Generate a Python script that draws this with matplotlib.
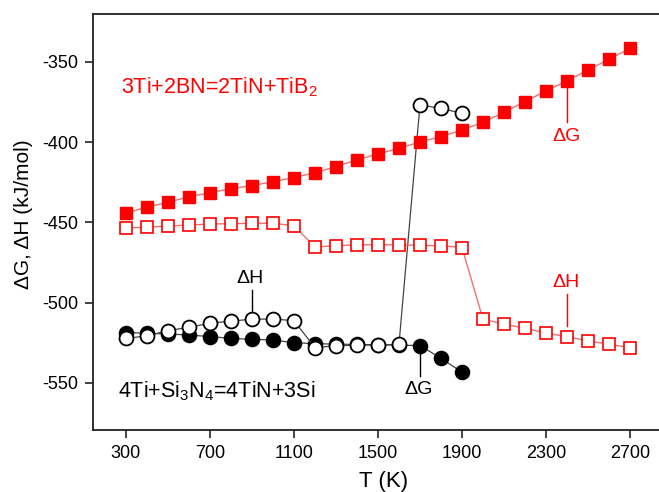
import matplotlib
matplotlib.use("Agg")
import matplotlib.pyplot as plt

plt.rcParams['font.family'] = ['Liberation Sans', 'DejaVu Sans']
plt.rcParams['mathtext.fontset'] = 'custom'
plt.rcParams['mathtext.rm'] = 'Liberation Sans'
plt.rcParams['mathtext.it'] = 'Liberation Sans:italic'
plt.rcParams['axes.unicode_minus'] = False

# --- data ---
T_bn = list(range(300, 2800, 100))
dG_bn = [-444.0, -440.5, -437.4, -434.0, -431.4, -429.0, -427.0, -424.6, -422.0,
         -419.0, -415.2, -411.0, -407.3, -403.8, -399.8, -396.5, -392.4, -387.6,
         -381.3, -374.7, -368.0, -361.8, -355.0, -348.3, -341.5]
dH_bn = [-453.4, -453.0, -452.2, -451.6, -451.0, -450.7, -450.5, -450.5, -452.0,
         -465.3, -464.5, -463.9, -463.9, -463.9, -464.3, -464.5, -465.6,
         -510.2, -513.4, -515.9, -519.0, -521.1, -523.8, -525.9, -528.0]

T_si = list(range(300, 2000, 100))
dG_si = [-518.6, -519.0, -519.5, -520.1, -521.1, -522.2, -522.8, -523.2, -524.9,
         -525.5, -525.8, -526.0, -526.2, -526.4, -526.7, -534.6, -543.3]
dH_si = [-522.2, -520.7, -517.4, -515.3, -512.8, -511.4, -510.3, -510.1, -511.2,
         -528.0, -526.8, -526.5, -526.3, -526.0, -376.8, -378.9, -382.0]

x_ticks = [300, 700, 1100, 1500, 1900, 2300, 2700]
y_ticks = [-550, -500, -450, -400, -350]

fig = plt.figure(figsize=(6.59, 4.92), dpi=100)
ax = fig.add_axes([93/659, 1-430/492, 1-93/659, (430-14)/492])

red = '#ff0000'
redline = '#f07070'

# Si3N4 series (black)
ax.plot(T_si, dG_si, '-', color='#444444', lw=0.9, marker='o', ms=10,
        mfc='black', mec='black', mew=1.2, zorder=3)
ax.plot(T_si, dH_si, '-', color='#444444', lw=0.9, marker='o', ms=10,
        mfc='white', mec='black', mew=1.3, zorder=4)

# BN series (red)
ax.plot(T_bn, dH_bn, '-', color=redline, lw=1.0, marker='s', ms=8.8,
        mfc='white', mec=red, mew=1.2, zorder=5)
ax.plot(T_bn, dG_bn, '-', color=redline, lw=1.0, marker='s', ms=9.3,
        mfc=red, mec=red, mew=1.0, zorder=6)

ax.set_xlim(143.3, 2838)
ax.set_ylim(-579.3, -320.1)
ax.set_xticks(x_ticks)
ax.set_yticks(y_ticks)
ax.tick_params(axis='both', direction='out', length=5.5, width=1.2,
               labelsize=13, pad=5, color='#222222')
for s in ['left', 'bottom', 'top']:
    ax.spines[s].set_linewidth(1.3)
    ax.spines[s].set_color('#222222')
ax.spines['right'].set_visible(False)

# annotations
ax.plot([2400, 2400], [-366.2, -387.4], color=red, lw=1.0, zorder=7)
ax.text(2400, -399.2, 'ΔG', color=red, fontsize=14, ha='center', va='baseline')
ax.plot([2400, 2400], [-494.5, -514.5], color=red, lw=1.0, zorder=7)
ax.text(2395, -490.2, 'ΔH', color=red, fontsize=14, ha='center', va='baseline')
ax.plot([900, 900], [-492, -505.8], color='black', lw=1.0, zorder=7)
ax.text(890, -487.7, 'ΔH', color='black', fontsize=14, ha='center', va='baseline')
ax.plot([1700, 1700], [-530.7, -545.6], color='black', lw=1.0, zorder=7)
ax.text(1695, -557.0, 'ΔG', color='black', fontsize=14, ha='center', va='baseline')

ax.text(276, -369.3, r'3Ti+2BN=2TiN+TiB$_\mathrm{2}$', color=red, fontsize=15.5,
        ha='left', va='baseline')
ax.text(262, -558.7, r'4Ti+Si$_\mathrm{3}$N$_\mathrm{4}$=4TiN+3Si', color='black',
        fontsize=15.5, ha='left', va='baseline')

fig.text(384/659, 1-482/492, 'T (K)', fontsize=16, ha='center', va='center')
fig.text(24/659, 1-214/492, 'ΔG, ΔH (kJ/mol)', fontsize=15, ha='center',
         va='center', rotation=90)

fig.savefig('out.png', dpi=100)
